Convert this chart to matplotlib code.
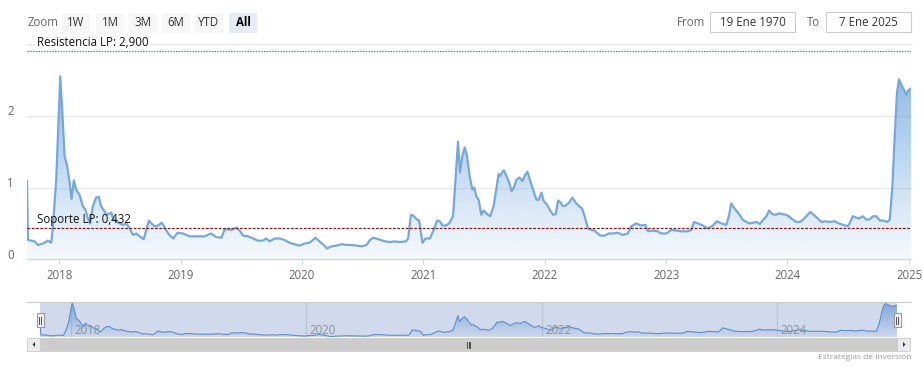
import numpy as np
import pandas as pd
import matplotlib
matplotlib.use("Agg")
import matplotlib.pyplot as plt
import matplotlib.dates as mdates
from matplotlib.patches import Rectangle, Polygon
from matplotlib.lines import Line2D

# ---------------- data ----------------
dates = [
    "2017-09-26", "2017-09-29", "2017-10-19", "2017-10-29", "2017-11-13", "2017-11-28", "2017-12-08",
    "2017-12-13", "2017-12-23", "2018-01-04", "2018-01-10", "2018-01-17", "2018-01-25", "2018-02-01",
    "2018-02-07", "2018-02-14", "2018-02-21", "2018-03-03", "2018-03-13", "2018-03-21", "2018-03-28",
    "2018-04-04", "2018-04-12", "2018-04-22", "2018-04-30", "2018-05-07", "2018-05-17", "2018-05-24",
    "2018-06-02", "2018-06-07", "2018-06-12", "2018-06-22", "2018-07-02", "2018-07-12", "2018-07-22",
    "2018-08-01", "2018-08-11", "2018-08-21", "2018-08-31", "2018-09-12", "2018-09-20", "2018-09-28",
    "2018-10-05", "2018-10-15", "2018-10-25", "2018-11-06", "2018-11-18", "2018-11-28", "2018-12-10",
    "2018-12-23", "2019-01-08", "2019-01-28", "2019-02-17", "2019-03-14",
    "2019-04-03", "2019-04-18", "2019-05-04", "2019-05-13", "2019-05-23", "2019-06-03", "2019-06-18",
    "2019-06-28", "2019-07-08", "2019-07-23", "2019-08-07", "2019-08-22", "2019-09-06", "2019-09-16",
    "2019-09-26", "2019-10-11", "2019-10-26", "2019-11-10", "2019-11-25", "2019-12-10", "2019-12-25",
    "2020-01-09", "2020-01-24", "2020-02-11", "2020-02-23", "2020-03-07", "2020-03-17", "2020-03-30",
    "2020-04-14", "2020-04-29", "2020-05-15", "2020-05-30", "2020-06-14", "2020-06-29", "2020-07-14",
    "2020-07-24", "2020-08-03", "2020-08-18", "2020-09-07",
    "2020-09-22", "2020-10-07", "2020-10-22", "2020-11-09", "2020-11-16", "2020-11-24", "2020-12-01",
    "2020-12-11", "2020-12-19", "2020-12-29", "2021-01-07", "2021-01-20", "2021-01-30", "2021-02-11",
    "2021-02-19", "2021-02-27", "2021-03-09", "2021-03-19", "2021-03-31", "2021-04-08", "2021-04-15",
    "2021-04-21", "2021-04-28", "2021-05-05", "2021-05-12", "2021-05-20", "2021-05-28", "2021-06-03",
    "2021-06-09", "2021-06-16", "2021-06-24", "2021-07-01", "2021-07-09", "2021-07-21", "2021-07-31",
    "2021-08-08", "2021-08-15", "2021-08-20", "2021-08-25", "2021-08-31", "2021-09-08", "2021-09-16",
    "2021-09-23", "2021-09-30", "2021-10-08", "2021-10-16", "2021-10-26", "2021-11-03", "2021-11-10",
    "2021-11-17", "2021-11-27", "2021-12-07", "2021-12-14", "2021-12-22", "2021-12-29", "2022-01-08",
    "2022-01-16", "2022-01-26", "2022-02-03", "2022-02-10", "2022-02-18", "2022-02-25",
    "2022-03-05", "2022-03-15", "2022-03-25", "2022-04-04", "2022-04-14", "2022-04-23", "2022-05-01",
    "2022-05-11", "2022-05-21", "2022-05-31", "2022-06-10", "2022-06-17", "2022-06-30", "2022-07-13",
    "2022-07-25", "2022-08-09", "2022-08-24", "2022-09-08", "2022-09-18", "2022-10-03", "2022-10-18",
    "2022-10-31", "2022-11-07", "2022-11-22", "2022-12-07", "2022-12-17", "2023-01-02", "2023-01-17",
    "2023-02-01", "2023-02-16", "2023-03-08", "2023-03-18", "2023-03-26", "2023-04-07", "2023-04-22",
    "2023-05-07", "2023-05-22", "2023-06-03", "2023-06-16", "2023-07-01", "2023-07-09", "2023-07-16",
    "2023-07-26", "2023-08-10",
    "2023-08-20", "2023-08-31", "2023-09-10", "2023-09-20", "2023-09-30", "2023-10-10", "2023-10-20",
    "2023-10-30", "2023-11-07", "2023-11-17", "2023-11-27", "2023-12-07", "2023-12-17", "2023-12-29",
    "2024-01-08", "2024-01-18", "2024-01-28", "2024-02-07", "2024-02-17", "2024-02-27", "2024-03-10",
    "2024-03-20", "2024-03-30", "2024-04-12", "2024-04-25", "2024-05-07", "2024-05-22", "2024-06-04",
    "2024-06-16", "2024-07-01", "2024-07-06", "2024-07-16", "2024-07-26", "2024-08-05", "2024-08-15",
    "2024-08-26", "2024-09-05", "2024-09-15", "2024-09-25", "2024-10-05", "2024-10-17", "2024-10-27",
    "2024-11-04", "2024-11-12", "2024-11-19", "2024-11-26", "2024-12-02", "2024-12-09", "2024-12-16",
    "2024-12-24", "2024-12-29", "2025-01-07",
]
values = [
    1.09, 0.27, 0.25, 0.20, 0.22, 0.26, 0.23,
    0.46, 1.11, 2.55, 2.09, 1.44, 1.30, 1.07,
    0.84, 1.10, 0.97, 0.90, 0.74, 0.69, 0.57,
    0.50, 0.74, 0.86, 0.87, 0.74, 0.67, 0.62,
    0.64, 0.65, 0.57, 0.53, 0.50, 0.48, 0.50,
    0.43, 0.34, 0.36, 0.32, 0.28, 0.41, 0.54,
    0.50, 0.46, 0.47, 0.51, 0.41, 0.34, 0.29,
    0.37, 0.36, 0.32, 0.32, 0.32,
    0.36, 0.31, 0.30, 0.41, 0.42, 0.41, 0.44,
    0.40, 0.33, 0.32, 0.29, 0.26, 0.26, 0.29,
    0.25, 0.29, 0.29, 0.27, 0.23, 0.21, 0.19,
    0.22, 0.23, 0.30, 0.25, 0.20, 0.15, 0.18,
    0.19, 0.21, 0.20, 0.20, 0.19, 0.18, 0.20,
    0.27, 0.30, 0.28, 0.25,
    0.24, 0.25, 0.24, 0.25, 0.29, 0.62, 0.61,
    0.56, 0.54, 0.23, 0.29, 0.29, 0.39, 0.54,
    0.53, 0.47, 0.47, 0.50, 0.60, 1.16, 1.64,
    1.21, 1.44, 1.56, 1.44, 1.16, 0.97, 1.00,
    0.88, 0.83, 0.62, 0.68, 0.64, 0.60, 0.74,
    0.97, 1.19, 1.16, 1.21, 1.24, 1.16, 1.07,
    0.95, 1.00, 1.11, 1.14, 1.09, 1.18, 1.22,
    1.11, 0.97, 0.83, 0.83, 0.93, 0.81, 0.76,
    0.69, 0.62, 0.63, 0.82, 0.79, 0.74,
    0.75, 0.79, 0.86, 0.79, 0.74, 0.71, 0.60,
    0.43, 0.41, 0.40, 0.36, 0.33, 0.33, 0.36,
    0.36, 0.37, 0.34, 0.36, 0.46, 0.50, 0.47,
    0.48, 0.39, 0.40, 0.39, 0.36, 0.36, 0.41,
    0.40, 0.39, 0.39, 0.41, 0.52, 0.50, 0.47,
    0.43, 0.47, 0.53, 0.50, 0.48, 0.60, 0.78,
    0.71, 0.62,
    0.55, 0.52, 0.50, 0.51, 0.52, 0.49, 0.55,
    0.60, 0.68, 0.63, 0.62, 0.64, 0.63, 0.62,
    0.59, 0.55, 0.52, 0.52, 0.55, 0.60, 0.66,
    0.62, 0.58, 0.52, 0.53, 0.52, 0.53, 0.50,
    0.48, 0.46, 0.50, 0.60, 0.58, 0.57, 0.60,
    0.55, 0.56, 0.60, 0.60, 0.54, 0.54, 0.52,
    0.55, 1.02, 1.72, 2.33, 2.51, 2.43, 2.37,
    2.29, 2.35, 2.38,
]
y_ticks = [0, 1, 2]
y_grid = [1, 2, 3]
nav_label_years = [2018, 2020, 2022, 2024]
support_value = 0.432
resistance_value = 2.9
support_label = "Soporte LP: 0,432"
resistance_label = "Resistencia LP: 2,900"
zoom_label = "Zoom"
zoom_buttons = ["1W", "1M", "3M", "6M", "YTD", "All"]
selected_button = "All"
from_label, from_value = "From", "19 Ene 1970"
to_label, to_value = "To", "7 Ene 2025"
credit = "Estrategias de Inversión"

# ---------------- figure ----------------
plt.rcParams['font.family'] = ['Open Sans', 'DejaVu Sans']
W, H = 923, 369
fig = plt.figure(figsize=(W / 100, H / 100), dpi=100)


def fx(x):
    return x / W


def fy(y):
    return 1 - y / H


xn = mdates.date2num(pd.to_datetime(dates))
vals = np.array(values)
x0, x1 = xn.min(), xn.max()

LINE = "#76a8dc"
FILL_RGB = (115 / 255, 168 / 255, 225 / 255)


def gradient_fill(ax, x, y, ymin, ymax, a_top, a_bot, z=1):
    poly = ax.fill_between(x, y, ymin, facecolor="none", edgecolor="none")
    n = 256
    g = np.linspace(1, 0, n)[:, None]
    img = np.zeros((n, 1, 4))
    img[..., 0], img[..., 1], img[..., 2] = FILL_RGB
    img[..., 3] = (a_bot + (a_top - a_bot) * g)
    im = ax.imshow(img, extent=[x.min(), x.max(), ymin, ymax], aspect="auto",
                   origin="upper", zorder=z, interpolation="bilinear")
    im.set_clip_path(poly.get_paths()[0], transform=ax.transData)


# ---------------- main axes ----------------
top_px, bot_px = 44.0, 259.3
ax = fig.add_axes([fx(27), fy(bot_px), fx(911) - fx(27), (bot_px - top_px) / H])
YMAX = 3.0
gradient_fill(ax, xn, vals, 0, YMAX, 0.92, 0.06)
ax.plot(xn, vals, color=LINE, lw=1.6, zorder=3, solid_joinstyle="round")
ax.set_xlim(x0, x1)
ax.set_ylim(0, YMAX)
for v in y_grid:
    ax.axhline(v, color="#e9e9e9", lw=1.0, zorder=0, clip_on=False)
for s in ["left", "right", "top"]:
    ax.spines[s].set_visible(False)
ax.spines["bottom"].set_color("#ccd6eb")
ax.spines["bottom"].set_linewidth(1.0)
ax.set_yticks([])
ax.xaxis.set_major_locator(mdates.YearLocator())
ax.xaxis.set_major_formatter(mdates.DateFormatter("%Y"))
ax.tick_params(axis="x", length=3.6, width=0.8, color="#ccd6eb", pad=3.5,
               labelsize=8.3, labelcolor="#666666")
for v in y_ticks:
    ax.annotate(str(v), xy=(0, v), xycoords=("axes fraction", "data"),
                xytext=(-13, 4), textcoords="offset pixels", ha="right", va="center",
                fontsize=8.3, color="#666666", annotation_clip=False)

# support / resistance
ax.axhline(support_value, color="#7d1d1d", lw=0.9, ls=(0, (2.2, 1.2)), zorder=4)
ax.axhline(resistance_value, color="#5f8f62", lw=0.9, ls=(0, (1.2, 1.0)), zorder=4)
ax.annotate(support_label, xy=(0, support_value), xycoords=("axes fraction", "data"),
            xytext=(10, 2), textcoords="offset pixels", ha="left", va="bottom",
            fontsize=8.3, color="#111111", zorder=5, annotation_clip=False)
ax.annotate(resistance_label, xy=(0, resistance_value), xycoords=("axes fraction", "data"),
            xytext=(10, 2), textcoords="offset pixels", ha="left", va="bottom",
            fontsize=8.3, color="#111111", zorder=3.5, annotation_clip=False,
            bbox=dict(boxstyle="square,pad=0.15", facecolor="white", edgecolor="none"))

# ---------------- range selector ----------------
fig.text(fx(28), fy(22.5), zoom_label, fontsize=8.3, color="#666666", ha="left", va="center")
btn_x = [62, 96, 129, 162, 195, 229]
for bx, lab in zip(btn_x, zoom_buttons):
    sel = lab == selected_button
    fig.patches.append(Rectangle((fx(bx), fy(33)), 28 / W, 20 / H, transform=fig.transFigure,
                                 facecolor="#e6ebf5" if sel else "#f7f7f7", edgecolor="none"))
    fig.text(fx(bx + 14), fy(22.5), lab, fontsize=8.3, color="#000000" if sel else "#333333",
             fontweight="bold" if sel else "normal", ha="center", va="center")

fig.text(fx(705), fy(22), from_label, fontsize=8.3, color="#666666", ha="right", va="center")
fig.patches.append(Rectangle((fx(710), fy(32)), 85 / W, 20 / H, transform=fig.transFigure,
                             facecolor="white", edgecolor="#cccccc", lw=0.8))
fig.text(fx(752.5), fy(22), from_value, fontsize=8.3, color="#333333", ha="center", va="center")
fig.text(fx(820), fy(22), to_label, fontsize=8.3, color="#666666", ha="right", va="center")
fig.patches.append(Rectangle((fx(826), fy(32)), 85 / W, 20 / H, transform=fig.transFigure,
                             facecolor="white", edgecolor="#cccccc", lw=0.8))
fig.text(fx(868.5), fy(22), to_value, fontsize=8.3, color="#333333", ha="center", va="center")

# ---------------- navigator ----------------
nav_l, nav_r, nav_t, nav_b = 40, 897, 302, 337
axn = fig.add_axes([fx(nav_l), fy(nav_b), (nav_r - nav_l) / W, (nav_b - nav_t) / H])
NMIN, NMAX = 0.12, 2.62
for yr in nav_label_years:
    xv = mdates.date2num(pd.Timestamp(f"{yr}-01-01"))
    axn.axvline(xv, color="#e0e0e0", lw=0.9, zorder=0)
gradient_fill(axn, xn, vals, NMIN, NMAX, 0.85, 0.05)
axn.plot(xn, vals, color="#5b8fd0", lw=0.8, zorder=3)
axn.set_xlim(x0, x1)
axn.set_ylim(NMIN, NMAX)
axn.axis("off")
axn.add_patch(Rectangle((0, 0), 1, 1, transform=axn.transAxes,
                        facecolor=(102 / 255, 133 / 255, 194 / 255, 0.3), edgecolor="none", zorder=5))
for yr in nav_label_years:
    xv = mdates.date2num(pd.Timestamp(f"{yr}-01-01"))
    axn.annotate(str(yr), xy=(xv, 0), xycoords=("data", "axes fraction"),
                 xytext=(3, 7), textcoords="offset pixels", ha="left", va="center",
                 fontsize=8.3, color="#8a919e", zorder=6)
fig.lines.append(Line2D([fx(27), fx(911)], [fy(302), fy(302)], transform=fig.transFigure,
                        color="#cccccc", lw=0.8))
# handles
for hx in (nav_l, nav_r):
    fig.patches.append(Rectangle((fx(hx - 3.5), fy(327)), 7 / W, 14 / H, transform=fig.transFigure,
                                 facecolor="#f2f2f2", edgecolor="#999999", lw=0.8, zorder=10))
    for dx in (-1, 1):
        fig.lines.append(Line2D([fx(hx + dx), fx(hx + dx)], [fy(316.5), fy(323.5)],
                                transform=fig.transFigure, color="#333333", lw=0.6, zorder=11))

# ---------------- scrollbar ----------------
sb_t, sb_b = 338, 351
fig.patches.append(Rectangle((fx(27), fy(sb_b)), 884 / W, (sb_b - sb_t) / H, transform=fig.transFigure,
                             facecolor="#f2f2f2", edgecolor="none"))
fig.patches.append(Rectangle((fx(nav_l), fy(sb_b)), (nav_r - nav_l) / W, (sb_b - sb_t) / H,
                             transform=fig.transFigure, facecolor="#cccccc", edgecolor="#cccccc", lw=0.6))
for bx in (27, nav_r):
    fig.patches.append(Rectangle((fx(bx), fy(sb_b)), 13 / W, (sb_b - sb_t) / H, transform=fig.transFigure,
                                 facecolor="#ebebeb", edgecolor="#cccccc", lw=0.6))
fig.patches.append(Polygon([(fx(35), fy(342)), (fx(35), fy(347)), (fx(32.5), fy(344.5))], closed=True,
                           transform=fig.transFigure, facecolor="#333333", edgecolor="none"))
fig.patches.append(Polygon([(fx(903), fy(342)), (fx(903), fy(347)), (fx(905.5), fy(344.5))], closed=True,
                           transform=fig.transFigure, facecolor="#333333", edgecolor="none"))
cx = (nav_l + nav_r) / 2
for dx in (-2, 0, 2):
    fig.lines.append(Line2D([fx(cx + dx), fx(cx + dx)], [fy(341.5), fy(347.5)],
                            transform=fig.transFigure, color="#333333", lw=0.6))

fig.text(fx(911), fy(357.5), credit, fontsize=6.0, color="#999999", ha="right", va="center")

fig.savefig("out.png", dpi=100, facecolor="white")
